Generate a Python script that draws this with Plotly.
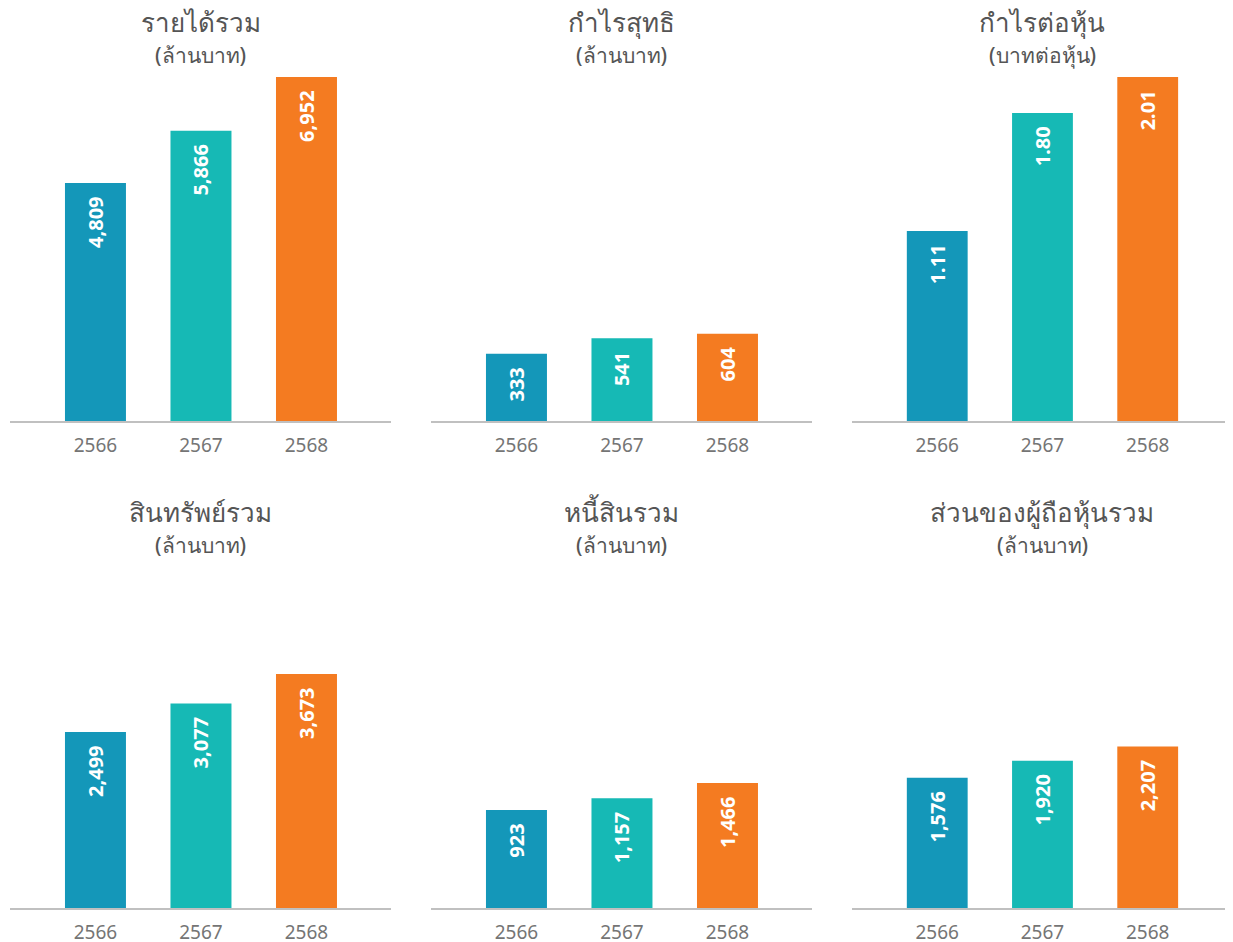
import plotly.graph_objects as go

years = ["2566", "2567", "2568"]
colors = ["#1497b9", "#16b9b5", "#f47b21"]

titles = ["รายได้รวม", "กำไรสุทธิ", "กำไรต่อหุ้น", "สินทรัพย์รวม", "หนี้สินรวม", "ส่วนของผู้ถือหุ้นรวม"]
subtitles = ["(ล้านบาท)", "(ล้านบาท)", "(บาทต่อหุ้น)", "(ล้านบาท)", "(ล้านบาท)", "(ล้านบาท)"]

revenue = [4809, 5866, 6952]
net_profit = [333, 541, 604]
eps = [1.11, 1.80, 2.01]
assets = [2499, 3077, 3673]
liabilities = [923, 1157, 1466]
equity = [1576, 1920, 2207]

series = [revenue, net_profit, eps, assets, liabilities, equity]
labels = [
    [f"{v:,}" for v in revenue],
    [f"{v:,}" for v in net_profit],
    [f"{v:.2f}" for v in eps],
    [f"{v:,}" for v in assets],
    [f"{v:,}" for v in liabilities],
    [f"{v:,}" for v in equity],
]
# value-axis ranges (axis floor, axis top) for each panel
y_ranges = [(0, 6952), (-574, 4068), (0, 2.01), (-1063, 5901), (-1063, 5901), (-1063, 5901)]

OFF = 8  # default page body margin
W, H = 1233 - OFF, 942
ml, mr = 10 - OFF, 1
pw = W - ml - mr
col_px = [(0, 381), (421, 802), (842, 1222)]
row_px = [(77 - OFF, 421 - OFF), (564 - OFF, 908 - OFF)]
title_y = [22 - OFF, 512 - OFF]

FONT = "Noto Sans, Lato, sans-serif"
fig = go.Figure()
layout = dict(
    width=W, height=H, margin=dict(l=ml, r=mr, t=0, b=0),
    plot_bgcolor="white", paper_bgcolor="white", showlegend=False,
    bargap=0.422, template="none", annotations=[],
)

for i in range(6):
    r, c = divmod(i, 3)
    ax = "" if i == 0 else str(i + 1)
    x0, x1 = col_px[c]
    y0, y1 = row_px[r]
    base = y_ranges[i][0]
    fig.add_trace(go.Bar(
        x=years, y=[v - base for v in series[i]], base=base,
        marker=dict(color=colors, line=dict(width=0)),
        text=[t + "\u00a0\u00a0" for t in labels[i]],
        textposition="inside", insidetextanchor="end", textangle=-90,
        textfont=dict(family=FONT, size=20, color="white", weight="bold"),
        xaxis="x" + ax, yaxis="y" + ax, hoverinfo="skip",
    ))
    layout["xaxis" + ax] = dict(
        domain=[x0 / pw, x1 / pw], anchor="y" + ax, type="category",
        range=[-0.81, 2.801], showline=True, linecolor="#c0c0c0", linewidth=2,
        showgrid=False, zeroline=False, ticks="", automargin=False,
        tickfont=dict(family=FONT, size=19, color="#757575"), ticklabelstandoff=6,
    )
    layout["yaxis" + ax] = dict(
        domain=[1 - y1 / H, 1 - y0 / H], anchor="x" + ax,
        range=list(y_ranges[i]), visible=False, showgrid=False, zeroline=False,
        automargin=False,
    )
    xc = (x0 + x1) / 2
    ty = title_y[r]
    layout["annotations"].append(dict(
        text=titles[i], x=xc / pw, y=1 - ty / H, xref="paper", yref="paper",
        showarrow=False, xanchor="center", yanchor="middle",
        font=dict(family=FONT, size=26, color="#555555", weight=500),
    ))
    layout["annotations"].append(dict(
        text=subtitles[i], x=xc / pw, y=1 - (ty + 33) / H, xref="paper", yref="paper",
        showarrow=False, xanchor="center", yanchor="middle",
        font=dict(family=FONT, size=21, color="#555555", weight=500),
    ))

fig.update_layout(**layout)
fig.write_html("out.html")
